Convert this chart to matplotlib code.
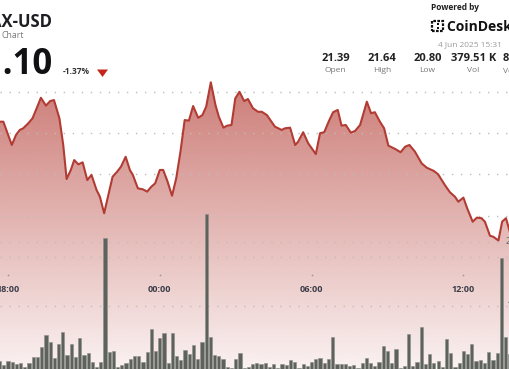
import matplotlib
matplotlib.use("Agg")
import matplotlib.pyplot as plt
import matplotlib.transforms as mtransforms
from matplotlib.patches import Polygon, Rectangle
import numpy as np

# ---------------- data ----------------
# price samples: minutes since 3 Jun 2025 18:00
price_minutes = [-19, -11, 9, 19, 28, 36, 48, 58, 68, 78,
                 90, 100, 109, 122, 131, 139, 149, 157, 167, 177,
                 188, 198, 210, 218, 228, 238, 248, 259, 268, 279,
                 289, 296, 308, 320, 330, 340, 349, 360, 368, 378,
                 389, 399, 409, 419, 429, 439, 451, 461, 470, 481,
                 492, 500, 511, 520, 530, 539, 549, 560, 569, 581,
                 593, 602, 614, 633, 649, 657, 669, 681, 688, 700,
                 712, 730, 740, 750, 761, 771, 782, 791, 801, 813,
                 823, 835, 851, 861, 870, 882, 892, 902, 918, 931,
                 942, 952, 965, 981, 993, 1010, 1020, 1036, 1048, 1060,
                 1068, 1080, 1089, 1102, 1112, 1123, 1131, 1143, 1151, 1163,
                 1172, 1181, 1191, 1202]
prices = [21.456, 21.456, 21.343, 21.392, 21.416, 21.424, 21.448, 21.472, 21.521, 21.572,
          21.534, 21.556, 21.561, 21.472, 21.343, 21.178, 21.222, 21.270, 21.249, 21.259,
          21.173, 21.198, 21.125, 21.092, 21.012, 21.101, 21.189, 21.214, 21.238, 21.286,
          21.222, 21.198, 21.133, 21.128, 21.117, 21.141, 21.157, 21.222, 21.222, 21.168,
          21.097, 21.182, 21.311, 21.464, 21.461, 21.532, 21.475, 21.488, 21.529, 21.647,
          21.537, 21.480, 21.427, 21.437, 21.440, 21.569, 21.601, 21.556, 21.566, 21.521,
          21.504, 21.504, 21.488, 21.432, 21.416, 21.424, 21.427, 21.343, 21.359, 21.405,
          21.351, 21.299, 21.400, 21.405, 21.459, 21.502, 21.513, 21.437, 21.440, 21.403,
          21.411, 21.440, 21.553, 21.497, 21.502, 21.456, 21.424, 21.340, 21.324, 21.308,
          21.335, 21.343, 21.311, 21.254, 21.233, 21.217, 21.201, 21.149, 21.114, 21.092,
          21.068, 21.088, 21.036, 20.971, 20.991, 20.988, 20.971, 20.903, 20.898, 20.880,
          20.972, 20.988, 20.916, 20.882]

# 10-minute volume bars (thousands), first bar at 17:40
first_bar_minute = -20
bar_step_minutes = 10
volumes_k = [1.40, 0.78, 1.45, 1.29, 0.93, 1.04, 0.51, 1.04, 2.07, 1.98,
             3.63, 5.45, 4.40, 1.91, 4.05, 5.96, 2.33, 4.00, 2.07, 4.93,
             2.33, 2.60, 1.29, 0.51, 1.29, 20.59, 2.75, 3.00, 0.51, 0.78,
             1.14, 1.67, 2.18, 2.18, 1.29, 2.75, 6.33, 2.96, 4.93, 5.81,
             1.14, 5.71, 2.18, 1.56, 3.11, 2.44, 3.89, 1.67, 4.31, 24.23,
             5.09, 2.33, 2.18, 1.67, 0.51, 0.31, 1.67, 2.69, 0.31, 0.51,
             0.93, 1.14, 0.93, 1.14, 0.51, 0.89, 0.31, 0.89, 0.78, 1.56,
             1.29, 0.31, 0.89, 0.67, 1.29, 1.67, 1.82, 1.04, 1.67, 5.18,
             0.89, 0.89, 0.89, 0.67, 0.78, 0.31, 1.04, 1.91, 1.04, 0.67,
             1.20, 3.74, 3.00, 1.14, 3.22, 0.31, 0.67, 5.60, 0.67, 1.29,
             6.65, 0.93, 2.49, 1.04, 1.40, 0.51, 4.82, 2.69, 0.51, 1.14,
             3.00, 2.44, 4.00, 1.45, 1.56, 1.14, 2.85, 1.56, 2.69, 17.39,
             5.09, 2.49]
bar_minutes = [first_bar_minute + bar_step_minutes * i for i in range(len(volumes_k))]

time_ticks = [0, 360, 720, 1080]
time_labels = ["18:00", "00:00", "06:00", "12:00"]
price_grid = [21.6, 21.4, 21.2, 21.0, 20.8]
vol_grid = [10, 20]
vol_grid_labels = ["10K", "20K"]

stat_values = ["21.39", "21.64", "20.80", "379.51 K", "8.11 M"]
stat_labels = ["Open", "High", "Low", "Vol", "Vol (USD)"]

# ---------------- figure ----------------
W, H = 510, 369
FONT = ["Open Sans", "DejaVu Sans"]
plt.rcParams['font.family'] = FONT
fig = plt.figure(figsize=(W / 100, H / 100), dpi=100)
fig.patch.set_facecolor("white")

def fp(x, y):
    return x / W, 1 - y / H

ax = fig.add_axes([0, 0, 1, 1])
xmin, xmax = -18.97, 1190.5
ymin, ymax = 20.257, 22.046
ax.axis("off")

# gradient fill under the price line
base = np.array([181, 62, 54]) / 255.0
n = 256
rgba = np.zeros((n, 1, 4))
rgba[..., :3] = base
rgba[:, 0, 3] = np.linspace(0.07, 0.85, n)
im = ax.imshow(rgba, extent=[xmin, xmax, ymin, ymax], origin="lower",
               aspect="auto", zorder=1, interpolation="bilinear")
verts = list(zip(price_minutes, prices)) + [(price_minutes[-1], ymin - 1), (price_minutes[0], ymin - 1)]
clip = Polygon(verts, closed=True, facecolor="none", edgecolor="none", transform=ax.transData)
ax.add_patch(clip)
im.set_clip_path(clip)

for p in price_grid:
    ax.axhline(p, color="#bdbdbd", lw=1.0, ls=(0, (1, 5.5)), zorder=2)

ax.plot(price_minutes, prices, color="#b23c34", lw=1.5, zorder=4,
        solid_joinstyle="round", solid_capstyle="round")
ax.set_xlim(xmin, xmax)
ax.set_ylim(ymin, ymax)

# time labels
bt = mtransforms.blended_transform_factory(ax.transData, ax.transAxes)
for t, lab in zip(time_ticks, time_labels):
    ax.text(t, 1 - 289 / H, lab, transform=bt, ha="center", va="center",
            fontsize=6.5, fontweight="bold", color="#3b3b48", zorder=6)
    ax.plot([t], [1 - 275 / H], marker="o", ms=1.3, color="#9a9a9a",
            transform=bt, zorder=6, mec="none")

# volume axis
ax2 = ax.twinx()
ax2.axis("off")
for v in vol_grid:
    ax2.axhline(v, color="#bdbdbd", lw=1.0, ls=(0, (1, 5.5)), zorder=1)
ax2.bar(bar_minutes, volumes_k, width=7.6, color="#5e625d",
        edgecolor="#8c8f8b", linewidth=0.4, zorder=3)
ax2.set_ylim(0.156, 57.59)
ax2.set_xlim(xmin, xmax)
vt = mtransforms.blended_transform_factory(fig.transFigure, ax2.transData)
for v, lab in zip(vol_grid, vol_grid_labels):
    ax2.text(506 / W, v, lab, transform=vt, ha="left", va="center",
             fontsize=6.5, color="#666666", zorder=6)

# ---------------- header ----------------
fig.text(*fp(52, 27), "AVAX-USD", ha="right", va="baseline", fontsize=12,
         fontweight="bold", color="#1e1e22")
fig.text(*fp(2, 38.5), "Chart", ha="left", va="baseline", fontsize=6.3, color="#7a7a7a")
fig.text(*fp(53, 74), "21.10", ha="right", va="baseline", fontsize=25,
         fontweight="bold", color="#111114")
fig.text(*fp(63, 74), "-1.37%", ha="left", va="baseline", fontsize=6,
         fontweight="bold", color="#333333")
tri = Polygon([fp(97, 69.5), fp(108, 69.5), fp(102.5, 77)], closed=True,
              transform=fig.transFigure, facecolor="#c3261c", edgecolor="none")
fig.patches.append(tri)

fig.text(*fp(431, 10.5), "Powered by", ha="left", va="baseline", fontsize=6,
         fontweight="bold", color="#222222")
# logo mark
logo = Rectangle(fp(432.5, 31), 11 / W, 10.5 / H, transform=fig.transFigure,
                 facecolor="none", edgecolor="#111111", lw=1.6, ls=(0, (1.2, 0.6)))
fig.patches.append(logo)
for dy in (23.5, 28):
    fig.patches.append(Rectangle(fp(437.5, dy + 1.2), 1.8 / W, 1.8 / H,
                                 transform=fig.transFigure, facecolor="#111111",
                                 edgecolor="none"))
fig.text(*fp(447, 31), "CoinDesk Data", ha="left", va="baseline", fontsize=10,
         fontweight="bold", color="#111111")
fig.text(*fp(438, 46.7), "4 Jun 2025 15:31", ha="left", va="baseline",
         fontsize=6, color="#9a9a9a")

stat_x = [335.7, 381.7, 427.3, 473.3, 521]
for x, v, l in zip(stat_x, stat_values, stat_labels):
    fig.text(*fp(x, 61), v, ha="center", va="baseline", fontsize=8,
             fontweight="bold", color="#222222")
    fig.text(*fp(x, 72), l, ha="center", va="baseline", fontsize=6,
             color="#777777")

fig.savefig("out.png", dpi=100)
